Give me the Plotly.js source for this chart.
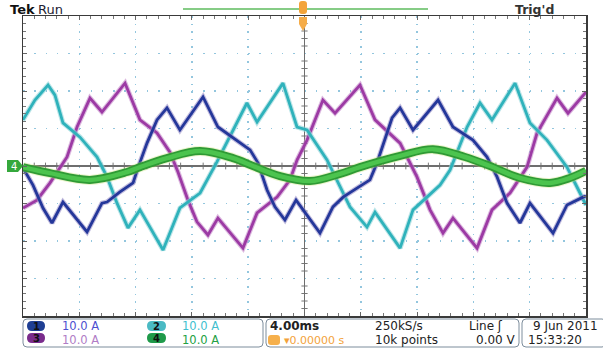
<!DOCTYPE html>
<html><head><meta charset="utf-8">
<script src="https://cdn.plot.ly/plotly-3.0.1.min.js"></script>
<style>html,body{margin:0;padding:0;background:#fff;}#chart{width:603px;height:352px;}</style>
</head><body><div id="chart"></div>
<script>
// time in ms (trigger at 0), current in A
const ch1_t = [-20.00,-19.29,-18.58,-17.94,-17.16,-15.45,-14.39,-14.03,-13.11,-12.18,-11.83,-11.19,-10.48,-9.77,-8.85,-7.21,-6.15,-5.08,-3.87,-3.30,-2.66,-2.10,-1.39,-0.60,1.10,2.02,2.74,3.73,4.65,5.15,5.72,6.22,6.79,7.71,9.49,10.55,11.97,12.97,13.68,14.39,15.31,16.02,17.66,18.65,19.79,20.00];
const ch1_i = [-0.5,-5.1,-11.2,-15.2,-9.6,-17.6,-9.9,-9.6,-6.9,-4.5,-0.5,6.1,12.3,15.5,9.6,18.4,10.4,7.5,4.3,0.8,-6.4,-10.9,-14.4,-9.1,-17.9,-10.9,-8.3,-5.9,-3.7,0.8,6.9,12.8,15.5,9.6,17.6,10.4,6.9,2.4,-2.9,-9.9,-15.2,-9.9,-17.9,-10.4,-8.3,-8.0];
const ch2_t = [-20.00,-19.15,-18.22,-17.73,-17.16,-15.95,-14.74,-14.03,-13.32,-12.54,-11.69,-10.05,-8.85,-7.42,-6.22,-4.09,-3.37,-1.53,-0.53,0.18,1.60,2.52,3.23,4.44,5.01,6.79,7.71,8.70,9.63,10.34,11.55,12.47,13.32,14.96,16.02,17.23,18.65,19.36,20.00];
const ch2_i = [12.3,17.6,21.6,18.9,11.5,7.7,2.4,-2.9,-9.9,-16.5,-11.7,-22.4,-11.2,-7.2,1.1,16.8,11.7,22.1,10.4,9.6,1.6,-5.6,-10.9,-16.3,-12.3,-21.9,-11.7,-8.3,-5.1,-1.1,10.4,16.8,12.3,22.1,11.5,6.9,-0.3,-5.6,-10.4];
const ch3_t = [-20.00,-19.01,-18.08,-16.87,-16.16,-15.24,-14.39,-12.75,-11.69,-10.48,-9.56,-8.99,-8.28,-7.64,-6.86,-6.15,-4.37,-3.37,-1.95,-1.03,-0.53,0.18,1.31,2.17,3.94,5.01,6.79,7.99,8.92,9.84,10.55,12.26,13.32,14.60,15.81,16.52,17.94,18.72,20.00];
const ch3_i = [-11.2,-9.1,-4.5,2.4,10.4,18.1,14.4,22.1,12.3,8.8,3.7,-1.6,-9.1,-14.9,-18.4,-13.9,-21.9,-12.5,-8.3,-3.7,1.6,6.9,17.6,14.1,21.6,12.3,6.1,-2.9,-11.7,-17.9,-13.9,-21.9,-11.7,-7.2,-0.3,8.8,18.1,14.1,19.7];
const ch4_t = [-20,-18.08,-15.24,-12.61,-11.69,-9.77,-7.42,-5.08,-3.66,-1.74,0.39,2.52,3.94,6.79,9.13,11.40,13.18,15.31,17.44,18.86,20];
const ch4_i = [-0.3,-1.9,-3.7,-1.6,-0.3,2.1,4.0,2.1,0,-2.7,-4.0,-2.1,-0.3,2.7,4.5,2.4,0,-3.2,-4.5,-3.2,-1.3];

const chNames = ['1','2','3','4'];
const chScales = ['10.0 A','10.0 A','10.0 A','10.0 A'];
const timeDiv = '4.00ms';
const sampleRate = '250kS/s';
const recLen = '10k points';
const trigPos = '0.00000 s';
const trigSrc = 'Line';
const trigLevel = '0.00 V';
const dateStr = '9 Jun 2011';
const timeStr = '15:33:20';

const C1 = '#24379a', C2 = '#2fb2bb', C3 = '#9c3aa4', C4 = '#2ea43a';
const FONT = 'DejaVu Sans';

const L = 23, R = 586, T = 16, B = 316;
const PX = x => (x - L) / (R - L);
const PY = y => (B - y) / (B - T);

function rrect(x0, y0, x1, y1, r) {
  const p = (x, y) => PX(x) + ',' + PY(y);
  return 'M' + p(x0 + r, y0) + ' L' + p(x1 - r, y0) + ' Q' + p(x1, y0) + ' ' + p(x1, y0 + r) +
    ' L' + p(x1, y1 - r) + ' Q' + p(x1, y1) + ' ' + p(x1 - r, y1) +
    ' L' + p(x0 + r, y1) + ' Q' + p(x0, y1) + ' ' + p(x0, y1 - r) +
    ' L' + p(x0, y0 + r) + ' Q' + p(x0, y0) + ' ' + p(x0 + r, y0) + ' Z';
}
function poly(pts) {
  return 'M' + pts.map(q => PX(q[0]) + ',' + PY(q[1])).join(' L') + ' Z';
}

function wave(t, i, color, w, op, shape) {
  return {x: t, y: i, type: 'scatter', mode: 'lines', hoverinfo: 'skip', showlegend: false,
    opacity: op, line: {color: color, width: w, shape: shape || 'linear', smoothing: 1}};
}

const traces = [
  wave(ch3_t, ch3_i, '#c58ac9', 5, 0.6), wave(ch3_t, ch3_i, C3, 2.8, 1),
  wave(ch2_t, ch2_i, '#8fd3d8', 5, 0.6), wave(ch2_t, ch2_i, C2, 2.8, 1),
  wave(ch1_t, ch1_i, '#9a8fc8', 5, 0.6), wave(ch1_t, ch1_i, C1, 2.8, 1),
  wave(ch4_t, ch4_i, '#c8e070', 10, 0.35, 'spline'),
  wave(ch4_t, ch4_i, '#2f9a35', 8, 1, 'spline'),
  wave(ch4_t, ch4_i, '#4cc44e', 4.5, 1, 'spline')
];

const shapes = [];
// center crosshair ticks
for (let k = -25; k <= 25; k++) {
  if (k % 5 === 0) continue;
  const x = k * 0.8;
  shapes.push({type: 'line', xref: 'x', yref: 'y', x0: x, x1: x, y0: -0.9, y1: 0.9, layer: 'below', line: {color: '#777', width: 1}});
}
for (let k = -20; k <= 20; k++) {
  if (k % 5 === 0) continue;
  const y = k * 2;
  shapes.push({type: 'line', xref: 'x', yref: 'y', x0: -0.22, x1: 0.22, y0: y, y1: y, layer: 'below', line: {color: '#777', width: 1}});
}
// record bar & trigger marker
shapes.push({type: 'line', xref: 'paper', yref: 'paper', x0: PX(183), x1: PX(428), y0: PY(9), y1: PY(9), line: {color: '#86cc86', width: 2}});
shapes.push({type: 'path', xref: 'paper', yref: 'paper', path: rrect(299, 1, 307, 14, 3), fillcolor: '#f3a43a', line: {width: 0}});
shapes.push({type: 'path', xref: 'paper', yref: 'paper', path: poly([[299, 17], [307, 17], [307, 24], [303, 31], [299, 24]]), fillcolor: '#f5ac48', line: {width: 0}});
// ch4 ground marker
shapes.push({type: 'path', xref: 'paper', yref: 'paper', path: poly([[7, 160], [18, 160], [23, 166], [18, 172], [7, 172]]), fillcolor: '#35a83c', line: {width: 0}});
// bottom readout boxes
shapes.push({type: 'path', xref: 'paper', yref: 'paper', path: rrect(23, 319, 263, 347, 4), fillcolor: 'rgba(0,0,0,0)', line: {color: '#7d8d9c', width: 1}});
shapes.push({type: 'path', xref: 'paper', yref: 'paper', path: rrect(266, 319, 519, 347, 4), fillcolor: 'rgba(0,0,0,0)', line: {color: '#7d8d9c', width: 1}});
shapes.push({type: 'path', xref: 'paper', yref: 'paper', path: rrect(522, 319, 606, 347, 4), fillcolor: 'rgba(0,0,0,0)', line: {color: '#7d8d9c', width: 1}});
// channel badges
const badgePos = [[27, 321, 45, 331], [147, 321, 166, 331], [27, 333, 45, 343], [147, 333, 166, 343]];
const badgeCol = ['#1f3f94', '#4bbac4', '#7a2c8c', '#1f9a4a'];
badgePos.forEach((b, k) => shapes.push({type: 'path', xref: 'paper', yref: 'paper', path: rrect(b[0], b[1], b[2], b[3], 5), fillcolor: badgeCol[k], line: {width: 0}}));
// trigger pos icon
shapes.push({type: 'path', xref: 'paper', yref: 'paper', path: rrect(268, 335, 280, 345, 3), fillcolor: '#f6b04c', line: {width: 0}});

function ann(x, y, text, size, color, anchor, extra) {
  return Object.assign({xref: 'paper', yref: 'paper', x: PX(x), y: PY(y), text: text, showarrow: false,
    xanchor: anchor || 'left', yanchor: 'middle', font: {family: FONT, size: size, color: color}}, extra || {});
}
const sColors = ['#4d4fd0', '#3fbfcf', '#b07cc6', '#22a043'];
const sPos = [[60, 326], [180, 326], [60, 339.5], [180, 339.5]];
const annotations = [
  ann(8, 9.5, '<b>Tek</b>', 13, '#111'),
  ann(36, 9.5, 'Run', 13, '#223'),
  ann(513, 10, "<b>Trig'd</b>", 12.5, '#333'),
  ann(14, 166, '4', 10, '#ffffff', 'center'),
  ann(268, 326, '<b>' + timeDiv + '</b>', 12, '#222'),
  ann(282, 340, '\u25be' + trigPos, 11, '#f3a23a'),
  ann(373, 326, sampleRate, 12, '#222'),
  ann(373, 340, recLen, 12, '#222'),
  ann(467, 326, trigSrc + ' \u0283', 12, '#222'),
  ann(474, 340, trigLevel, 12, '#222'),
  ann(531, 326, dateStr, 12, '#222'),
  ann(526, 340, timeStr, 12, '#222')
];
badgePos.forEach((b, k) => {
  annotations.push(ann((b[0] + b[2]) / 2, (b[1] + b[3]) / 2, '<b>' + chNames[k] + '</b>', 10, '#111', 'center'));
});
sPos.forEach((p, k) => annotations.push(ann(p[0], p[1], chScales[k], 11.5, sColors[k])));

const axisCommon = {showticklabels: false, fixedrange: true, showline: true, linecolor: '#3a3a3a', linewidth: 1.5,
  mirror: 'ticks', ticks: 'inside', tickcolor: '#666', ticklen: 4, zeroline: true, zerolinecolor: '#6e6e6e', zerolinewidth: 1.5,
  gridcolor: '#93c6de', gridwidth: 1.5};
const layout = {
  width: 603, height: 352, margin: {l: L, r: 603 - R, t: T, b: 352 - B, pad: 0},
  paper_bgcolor: '#ffffff', plot_bgcolor: '#ffffff', showlegend: false,
  xaxis: Object.assign({}, axisCommon, {range: [-20, 20], dtick: 4, tick0: 0, griddash: '1.5px,6px',
    minor: {dtick: 0.8, tick0: 0, ticks: 'inside', ticklen: 3, tickcolor: '#777', showgrid: false}}),
  yaxis: Object.assign({}, axisCommon, {range: [-40, 40], dtick: 10, tick0: 0, griddash: '1.5px,9.76px',
    minor: {dtick: 2, tick0: 0, ticks: 'inside', ticklen: 3, tickcolor: '#777', showgrid: false}}),
  shapes: shapes, annotations: annotations
};
Plotly.newPlot('chart', traces, layout, {staticPlot: true, displayModeBar: false});
</script></body></html>
